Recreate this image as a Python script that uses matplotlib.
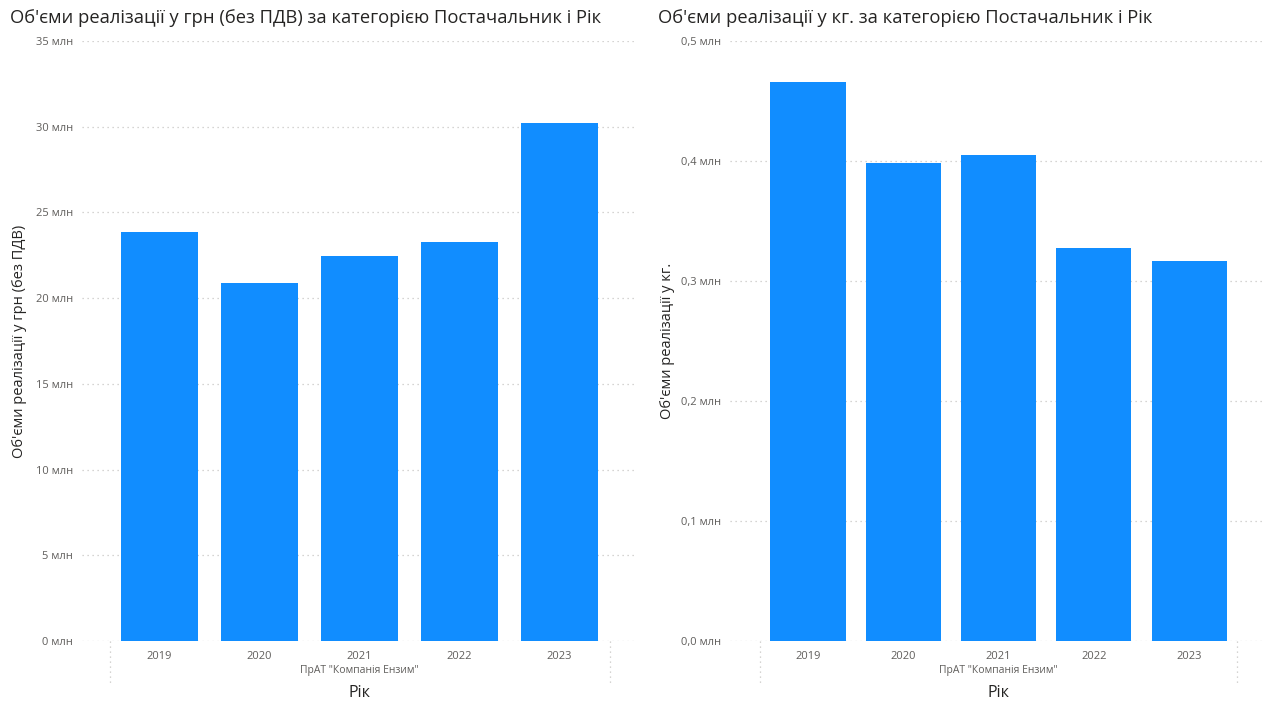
import matplotlib
matplotlib.use("Agg")
import matplotlib.pyplot as plt
from matplotlib.ticker import FuncFormatter, MultipleLocator
import matplotlib.transforms as mtransforms

plt.rcParams['font.family'] = ['Open Sans', 'DejaVu Sans']

years = ['2019', '2020', '2021', '2022', '2023']
sales_uah = [23.86, 20.89, 22.46, 23.28, 30.22]      # млн грн
sales_kg = [0.466, 0.398, 0.405, 0.3275, 0.3167]     # млн кг
supplier = 'ПрАТ "Компанія Ензим"'

BAR = '#118DFF'
GRID = '#C8C6C4'
TICK = '#605E5C'
DARK = '#252423'

W, H = 1270, 704
fig = plt.figure(figsize=(W / 100, H / 100), dpi=100)


def px_axes(x0, x1, y_top, y_bot):
    return fig.add_axes([x0 / W, (H - y_bot) / H, (x1 - x0) / W, (y_bot - y_top) / H])


def style(ax, values, ymax, step, fmt, title, ylabel, first_center, spacing, width,
          ylabel_x, title_x):
    x = list(range(len(years)))
    ax.bar(x, values, width=width, color=BAR, zorder=2)
    pos = ax.get_position()
    left_px = pos.x0 * W
    right_px = pos.x1 * W
    ax.set_xlim((left_px - first_center) / spacing, (right_px - first_center) / spacing)
    ax.set_ylim(0, ymax)
    ax.yaxis.set_major_locator(MultipleLocator(step))
    ax.yaxis.set_major_formatter(FuncFormatter(fmt))
    ax.grid(axis='y', color=GRID, linestyle=(0, (1, 3)), linewidth=0.9, zorder=0)
    for s in ax.spines.values():
        s.set_visible(False)
    ax.set_xticks(x)
    ax.set_xticklabels(years)
    ax.tick_params(axis='x', length=0, pad=7, labelsize=8, labelcolor=TICK)
    ax.tick_params(axis='y', length=0, pad=6.5, labelsize=8, labelcolor=TICK)

    # dotted category boundaries under the axis
    tr = mtransforms.blended_transform_factory(ax.transData, ax.transAxes)
    for xb in (-0.5, len(years) - 0.5):
        ax.plot([xb, xb], [0, -0.072], transform=tr, color=GRID,
                linestyle=(0, (1, 3)), linewidth=0.9, clip_on=False)

    ax.text(2, -0.05, supplier, transform=tr, ha='center', va='center',
            fontsize=7.5, color=TICK)
    ax.text(2, -0.087, 'Рік', transform=tr, ha='center', va='center',
            fontsize=11.5, color=DARK)
    ax.set_ylabel(ylabel, fontsize=10.5, color=DARK)
    ax.yaxis.set_label_coords(ylabel_x, 0.5)
    fig.text(title_x / W, 1 - 18 / H, title, ha='left', va='center',
             fontsize=13.2, color=DARK)


ax1 = px_axes(82, 637, 41, 641)
style(ax1, sales_uah, 35, 5, lambda v, p: f'{v:.0f} млн',
      "Об'єми реалізації у грн (без ПДВ) за категорією Постачальник і Рік",
      "Об'єми реалізації у грн (без ПДВ)", 159.5, 100, 0.77, -0.099, 10)

ax2 = px_axes(730, 1265, 41, 641)
style(ax2, sales_kg, 0.5, 0.1, lambda v, p: f'{v:.1f} млн'.replace('.', ','),
      "Об'єми реалізації у кг. за категорією Постачальник і Рік",
      "Об'єми реалізації у кг.", 808, 95.3, 0.787, -0.103, 658)

fig.savefig('out.png', dpi=100)
